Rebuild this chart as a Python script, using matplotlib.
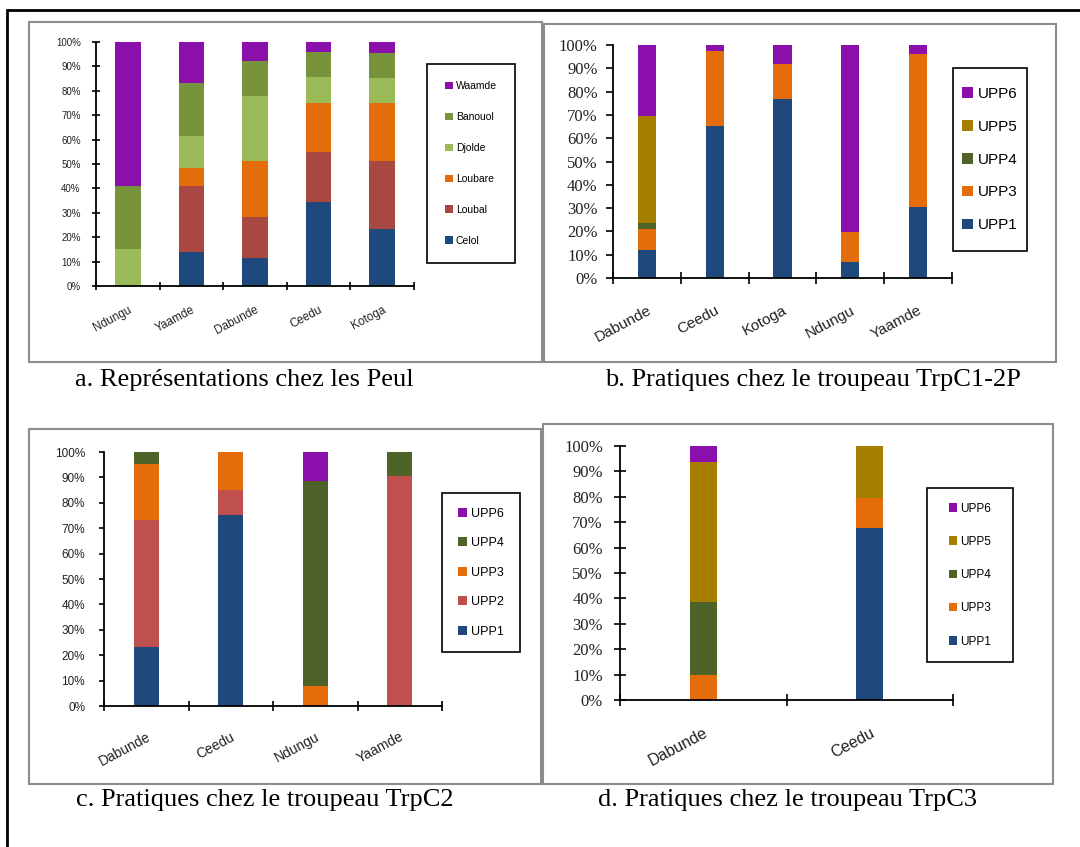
import matplotlib
matplotlib.use("Agg")
import matplotlib.pyplot as plt
from matplotlib.patches import Rectangle
from matplotlib.ticker import FixedLocator

# ---------------- data ----------------
# Panel a : Représentations chez les Peul
a_categories = ["Ndungu", "Yaamde", "Dabunde", "Ceedu", "Kotoga"]
a_celol   = [0.0, 14.0, 11.6, 34.5, 23.3]
a_loubal  = [0.0, 27.0, 16.6, 20.3, 27.9]
a_loubare = [0.0, 7.5, 23.0, 20.1, 23.7]
a_djolde  = [15.0, 13.0, 26.6, 10.6, 10.2]
a_banouol = [26.0, 21.5, 14.3, 10.3, 10.3]
a_waamde  = [59.0, 17.0, 7.9, 4.2, 4.6]
a_names = ["Celol", "Loubal", "Loubare", "Djolde", "Banouol", "Waamde"]

# Panel b : Pratiques chez le troupeau TrpC1-2P
b_categories = ["Dabunde", "Ceedu", "Kotoga", "Ndungu", "Yaamde"]
b_upp1 = [12.1, 65.3, 76.9, 7.0, 30.6]
b_upp3 = [9.0, 32.3, 15.0, 12.9, 65.5]
b_upp4 = [2.6, 0.0, 0.0, 0.0, 0.0]
b_upp5 = [46.0, 0.0, 0.0, 0.0, 0.0]
b_upp6 = [30.3, 2.4, 8.1, 80.1, 3.9]
b_names = ["UPP1", "UPP3", "UPP4", "UPP5", "UPP6"]

# Panel c : Pratiques chez le troupeau TrpC2
c_categories = ["Dabunde", "Ceedu", "Ndungu", "Yaamde"]
c_upp1 = [23.2, 75.1, 0.0, 0.0]
c_upp2 = [49.9, 9.8, 0.0, 90.4]
c_upp3 = [22.1, 15.1, 7.9, 0.0]
c_upp4 = [4.8, 0.0, 80.6, 9.6]
c_upp6 = [0.0, 0.0, 11.5, 0.0]
c_names = ["UPP1", "UPP2", "UPP3", "UPP4", "UPP6"]

# Panel d : Pratiques chez le troupeau TrpC3
d_categories = ["Dabunde", "Ceedu"]
d_upp1 = [0.0, 67.6]
d_upp3 = [9.8, 11.8]
d_upp4 = [28.7, 0.0]
d_upp5 = [55.1, 20.6]
d_upp6 = [6.4, 0.0]
d_names = ["UPP1", "UPP3", "UPP4", "UPP5", "UPP6"]

y_ticks = [0, 10, 20, 30, 40, 50, 60, 70, 80, 90, 100]

captions = ["a. Représentations chez les Peul",
            "b. Pratiques chez le troupeau TrpC1-2P",
            "c. Pratiques chez le troupeau TrpC2",
            "d. Pratiques chez le troupeau TrpC3"]

# ---------------- colours ----------------
C_BLUE = "#1F497D"
C_BROWN = "#A94743"
C_RED = "#C0504D"
C_ORANGE = "#E46C0A"
C_LGREEN = "#9BBB59"
C_OLIVE = "#77933C"
C_DGREEN = "#4F6228"
C_GOLD = "#A67F00"
C_PURPLE = "#8B10AB"

W, H = 1080, 847
fig = plt.figure(figsize=(W / 100, H / 100), dpi=100)
fig.patch.set_facecolor("white")


def fx(x):
    return x / W


def fy(y):
    return 1 - y / H


def add_ax(l, t, r, b):
    return fig.add_axes([fx(l), fy(b), (r - l) / W, (b - t) / H])


def box(l, t, r, b, color, lw):
    fig.add_artist(Rectangle((fx(l), fy(b)), (r - l) / W, (b - t) / H,
                             transform=fig.transFigure, fill=False,
                             edgecolor=color, lw=lw))


def panel(ax, cats, series, names, colors, width, yfont, ysize, ydir, ylen, ypad,
          xsize, xpad, xblen, legbox, legsize, legspacing):
    n = len(cats)
    xs = list(range(n))
    bottom = [0.0] * n
    handles = []
    for vals, name, col in zip(series, names, colors):
        h = ax.bar(xs, vals, width, bottom=bottom, color=col, label=name, linewidth=0)
        handles.append(h)
        bottom = [bb + v for bb, v in zip(bottom, vals)]
    ax.set_xlim(-0.5, n - 0.5)
    ax.set_ylim(0, 100)
    for s in ["top", "right"]:
        ax.spines[s].set_visible(False)
    for s in ["left", "bottom"]:
        ax.spines[s].set_linewidth(1.3)
        ax.spines[s].set_color("black")
    ax.set_yticks(y_ticks)
    ax.set_yticklabels([f"{t}%" for t in y_ticks], fontfamily=yfont, fontsize=ysize,
                       color="#222222")
    ax.tick_params(axis="y", direction=ydir, length=ylen, width=1.2, pad=ypad)
    ax.set_xticks(xs)
    ax.set_xticklabels(cats, rotation=28, ha="right", va="top", rotation_mode="anchor",
                       fontfamily="Liberation Sans", fontsize=xsize, color="#222222")
    ax.tick_params(axis="x", which="major", length=0, pad=xpad)
    ax.xaxis.set_minor_locator(FixedLocator([i - 0.5 for i in range(n + 1)]))
    ax.tick_params(axis="x", which="minor", direction="inout", length=xblen, width=1.2)
    # legend
    l, t, r, b = legbox
    box(l, t, r, b, "black", 1.2)
    ax.legend(handles[::-1], names[::-1], loc="center",
              bbox_to_anchor=(fx((l + r) / 2), fy((t + b) / 2)),
              bbox_transform=fig.transFigure, frameon=False,
              prop={"family": "Liberation Sans", "size": legsize},
              labelspacing=legspacing, handlelength=0.7, handleheight=0.7,
              handletextpad=0.3, borderpad=0)


# outer frame
box(7, 10, 1090, 860, "black", 2.0)
# panel frames
box(29, 22, 542, 362, "#8c8c8c", 1.5)
box(544, 24, 1056, 362, "#8c8c8c", 1.5)
box(29, 429, 541, 784, "#8c8c8c", 1.5)
box(543, 424, 1053, 784, "#8c8c8c", 1.5)

ax_a = add_ax(96, 42, 414, 286)
panel(ax_a, a_categories,
      [a_celol, a_loubal, a_loubare, a_djolde, a_banouol, a_waamde], a_names,
      [C_BLUE, C_BROWN, C_ORANGE, C_LGREEN, C_OLIVE, C_PURPLE],
      0.4, "Liberation Sans", 7, "inout", 6, 8,
      8.5, 13, 6, (427, 64, 515, 263), 7.5, 2.0)

ax_b = add_ax(613, 45, 952, 278)
panel(ax_b, b_categories,
      [b_upp1, b_upp3, b_upp4, b_upp5, b_upp6], b_names,
      [C_BLUE, C_ORANGE, C_DGREEN, C_GOLD, C_PURPLE],
      0.27, "Liberation Serif", 12, "out", 5, 6,
      11, 18, 8, (953, 68, 1027, 251), 11, 1.24)

ax_c = add_ax(104, 452, 442, 706)
panel(ax_c, c_categories,
      [c_upp1, c_upp2, c_upp3, c_upp4, c_upp6], c_names,
      [C_BLUE, C_RED, C_ORANGE, C_DGREEN, C_PURPLE],
      0.3, "Liberation Sans", 8.5, "out", 3.6, 10,
      10, 17, 7, (442, 493, 520, 652), 9, 1.4)

ax_d = add_ax(620, 446, 953, 700)
panel(ax_d, d_categories,
      [d_upp1, d_upp3, d_upp4, d_upp5, d_upp6], d_names,
      [C_BLUE, C_ORANGE, C_DGREEN, C_GOLD, C_PURPLE],
      0.16, "Liberation Serif", 12, "inout", 8.6, 8,
      11.5, 18, 9, (927, 488, 1013, 662), 8.5, 1.8)

cap_pos = [(75, 380), (605, 380), (76, 800), (598, 800)]
for txt, (x, y) in zip(captions, cap_pos):
    fig.text(fx(x), fy(y), txt, ha="left", va="center",
             fontfamily="Liberation Serif", fontsize=19, color="black")

fig.savefig("out.png", dpi=100, facecolor="white")
